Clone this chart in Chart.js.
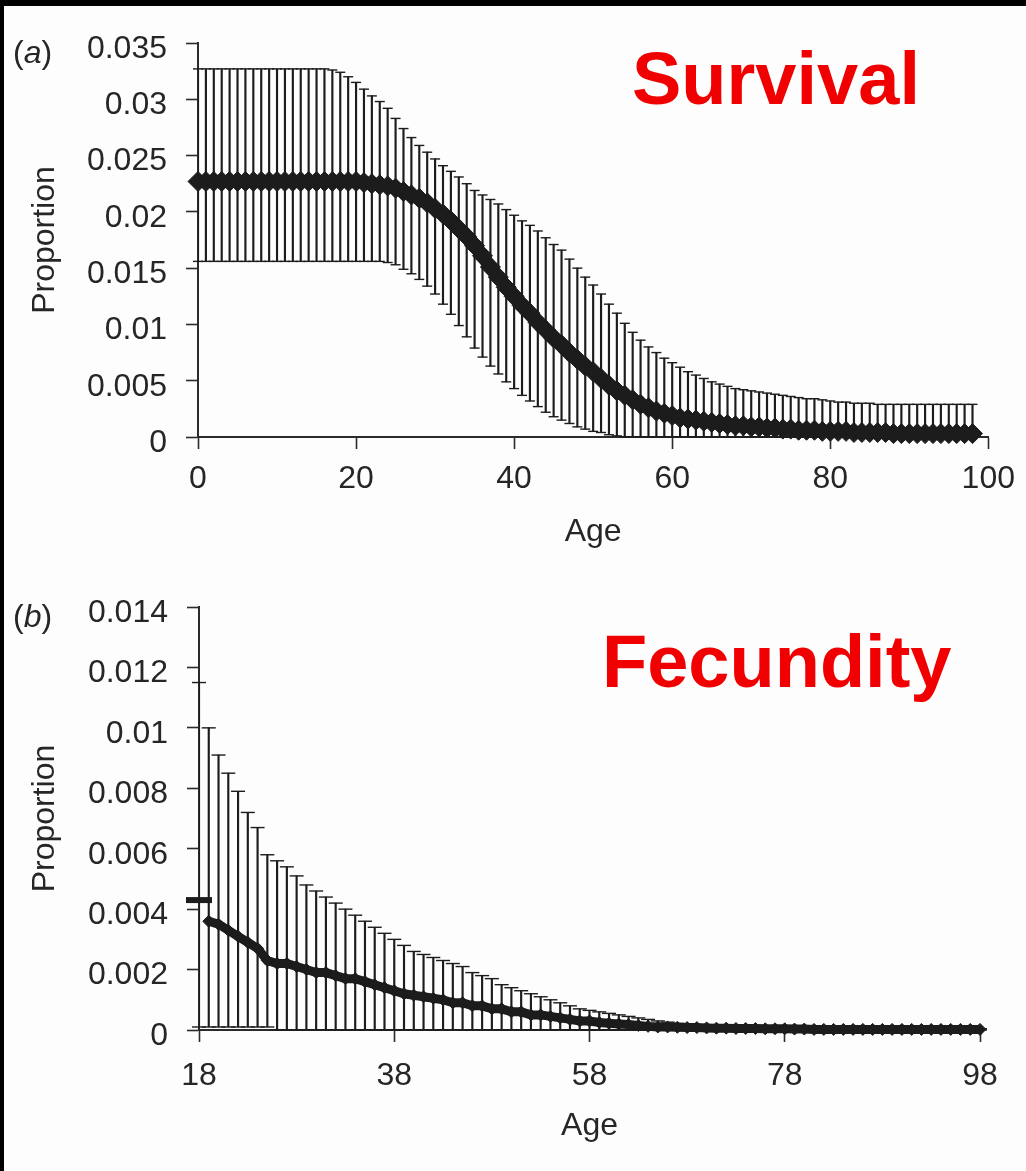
<!DOCTYPE html>
<html>
<head>
<meta charset="utf-8">
<script src="https://cdn.jsdelivr.net/npm/chart.js@4.4.1/dist/chart.umd.min.js"></script>
<style>
    html, body { margin: 0; padding: 0; background: #000; }
    body { width: 1026px; height: 1171px; position: relative; overflow: hidden;
           font-family: "Liberation Sans", Arial, sans-serif; }
    #sheet { position: absolute; left: 4px; top: 6px; right: 0; bottom: 0; background: #fdfdfd; }
    canvas { position: absolute; left: 0; }
    #chartA { top: 0; }
    #chartB { top: 560px; }
    .tag { position: absolute; left: 13px; font-size: 32px; line-height: 32px; color: #262626; }
    .tag i { font-style: italic; }
    .big { position: absolute; font-weight: bold; font-size: 74px; line-height: 74px; color: #f00000; }
</style>
</head>
<body>
<div id="sheet"></div>
<canvas id="chartA" width="1026" height="560"></canvas>
<canvas id="chartB" width="1026" height="611"></canvas>
<div class="tag" style="top:36px">(<i>a</i>)</div>
<div class="tag" style="top:600px">(<i>b</i>)</div>
<div class="big" style="left:632px; top:42px">Survival</div>
<div class="big" style="left:602px; top:625px">Fecundity</div>

<script>
    "use strict";

    // (a) Survival, ages 0-98
    const ageA = [
        0, 1, 2, 3, 4, 5, 6, 7, 8, 9, 10, 11, 12, 13, 14, 15, 16, 17, 18, 19,
        20, 21, 22, 23, 24, 25, 26, 27, 28, 29, 30, 31, 32, 33, 34, 35, 36, 37, 38, 39,
        40, 41, 42, 43, 44, 45, 46, 47, 48, 49, 50, 51, 52, 53, 54, 55, 56, 57, 58, 59,
        60, 61, 62, 63, 64, 65, 66, 67, 68, 69, 70, 71, 72, 73, 74, 75, 76, 77, 78, 79,
        80, 81, 82, 83, 84, 85, 86, 87, 88, 89, 90, 91, 92, 93, 94, 95, 96, 97, 98
    ];
    const meanA = [
        0.0227, 0.0227, 0.0227, 0.0227, 0.0227, 0.0227, 0.0227, 0.0227, 0.0227, 0.0227,
        0.0227, 0.0227, 0.0227, 0.0227, 0.0227, 0.0227, 0.0227, 0.0227, 0.0227, 0.0227,
        0.0227, 0.0226, 0.0225, 0.0224, 0.0223, 0.0221, 0.0218, 0.0215, 0.0212, 0.0208,
        0.0203, 0.0198, 0.0192, 0.0185, 0.0178, 0.0170, 0.0161, 0.0151, 0.0142, 0.0133,
        0.0125, 0.0117, 0.0110, 0.0102, 0.0095, 0.0088, 0.0082, 0.0075, 0.0069, 0.0063,
        0.0058, 0.0052, 0.0046, 0.0041, 0.0037, 0.0033, 0.0029, 0.0026, 0.0023, 0.0021,
        0.0019, 0.0017, 0.0016, 0.0015, 0.0014, 0.0013, 0.0012, 0.0011, 0.0010, 0.0010,
        0.0009, 0.0009, 0.0008, 0.0008, 0.0007, 0.0007, 0.0006, 0.0006, 0.0006, 0.0005,
        0.0005, 0.0005, 0.0005, 0.0004, 0.0004, 0.0004, 0.0004, 0.0004, 0.0003, 0.0003,
        0.0003, 0.0003, 0.0003, 0.0003, 0.0003, 0.0003, 0.0003, 0.0003, 0.0003
    ];
    const upperA = [
        0.0327, 0.0327, 0.0327, 0.0327, 0.0327, 0.0327, 0.0327, 0.0327, 0.0327, 0.0327,
        0.0327, 0.0327, 0.0327, 0.0327, 0.0327, 0.0327, 0.0327, 0.0326, 0.0324, 0.0320,
        0.0315, 0.0309, 0.0303, 0.0298, 0.0292, 0.0283, 0.0274, 0.0266, 0.0259, 0.0253,
        0.0247, 0.0241, 0.0236, 0.0231, 0.0225, 0.0219, 0.0215, 0.0211, 0.0207, 0.0202,
        0.0197, 0.0192, 0.0188, 0.0183, 0.0177, 0.0171, 0.0166, 0.0158, 0.0150, 0.0142,
        0.0135, 0.0127, 0.0118, 0.0110, 0.0101, 0.0093, 0.0086, 0.0080, 0.0075, 0.0070,
        0.0066, 0.0062, 0.0058, 0.0055, 0.0052, 0.0049, 0.0047, 0.0045, 0.0043, 0.0042,
        0.0041, 0.0040, 0.0039, 0.0038, 0.0037, 0.0036, 0.0035, 0.0034, 0.0034, 0.0033,
        0.0032, 0.0031, 0.0031, 0.0030, 0.0030, 0.0030, 0.0029, 0.0029, 0.0029, 0.0029,
        0.0029, 0.0029, 0.0029, 0.0029, 0.0029, 0.0029, 0.0029, 0.0029, 0.0029
    ];
    const lowerA = [
        0.0156, 0.0156, 0.0156, 0.0156, 0.0156, 0.0156, 0.0156, 0.0156, 0.0156, 0.0156,
        0.0156, 0.0156, 0.0156, 0.0156, 0.0156, 0.0156, 0.0156, 0.0156, 0.0156, 0.0156,
        0.0156, 0.0156, 0.0156, 0.0156, 0.0155, 0.0153, 0.0149, 0.0145, 0.0140, 0.0134,
        0.0127, 0.0118, 0.0109, 0.0099, 0.0089, 0.0079, 0.0071, 0.0063, 0.0056, 0.0049,
        0.0043, 0.0037, 0.0032, 0.0027, 0.0022, 0.0018, 0.0015, 0.0012, 0.0009, 0.0007,
        0.0005, 0.0004, 0.0002, 0.0001, 0, 0, 0, 0, 0, 0,
        0, 0, 0, 0, 0, 0, 0, 0, 0, 0,
        0, 0, 0, 0, 0, 0, 0, 0, 0, 0,
        0, 0, 0, 0, 0, 0, 0, 0, 0, 0,
        0, 0, 0, 0, 0, 0, 0, 0, 0
    ];
    const xTicksA  = [0, 20, 40, 60, 80, 100];
    const xLabelsA = ["0", "20", "40", "60", "80", "100"];
    const yTicksA  = [0, 0.005, 0.01, 0.015, 0.02, 0.025, 0.03, 0.035];
    const yLabelsA = ["0", "0.005", "0.01", "0.015", "0.02", "0.025", "0.03", "0.035"];

    // (b) Fecundity, ages 18-98
    const ageB = [
        18, 19, 20, 21, 22, 23, 24, 25, 26, 27, 28, 29, 30, 31, 32, 33, 34, 35, 36, 37,
        38, 39, 40, 41, 42, 43, 44, 45, 46, 47, 48, 49, 50, 51, 52, 53, 54, 55, 56, 57,
        58, 59, 60, 61, 62, 63, 64, 65, 66, 67, 68, 69, 70, 71, 72, 73, 74, 75, 76, 77,
        78, 79, 80, 81, 82, 83, 84, 85, 86, 87, 88, 89, 90, 91, 92, 93, 94, 95, 96, 97, 98
    ];
    const meanB = [
        0.0043, 0.0036, 0.0035, 0.0033, 0.0031, 0.0029, 0.0027, 0.0023, 0.0022, 0.0022,
        0.0021, 0.0020, 0.0019, 0.0019, 0.0018, 0.0017, 0.0017, 0.0016, 0.0015, 0.0014,
        0.0013, 0.0012, 0.00115, 0.0011, 0.00105, 0.0010, 0.0009, 0.0009, 0.0008, 0.0008,
        0.0007, 0.0007, 0.0006, 0.0006, 0.0005, 0.0005, 0.00045, 0.0004, 0.00035, 0.0003,
        0.0003, 0.00025, 0.00022, 0.0002, 0.00018, 0.00015, 0.00012, 0.0001, 0.0001, 0.00009,
        0.00008, 0.00008, 0.00007, 0.00006, 0.00006, 0.00005, 0.00005, 0.00005, 0.00004, 0.00004,
        0.00004, 0.00003, 0.00003, 0.00002, 0.00002, 0.00002, 0.00002, 0.00002, 0.00002, 0.00002,
        0.00002, 0.00002, 0.00002, 0.00002, 0.00002, 0.00002, 0.00002, 0.00002, 0.00002, 0.00002,
        0.00002
    ];
    const upperB = [
        0.0115, 0.0100, 0.0091, 0.0085, 0.0079, 0.0072, 0.0067, 0.0058, 0.0056, 0.0054,
        0.0051, 0.0048, 0.0046, 0.0044, 0.0042, 0.0040, 0.0038, 0.0036, 0.0034, 0.0032,
        0.0030, 0.0028, 0.0026, 0.0025, 0.0024, 0.0023, 0.0022, 0.0021, 0.0019, 0.0018,
        0.0017, 0.0015, 0.0014, 0.0013, 0.0012, 0.0011, 0.0010, 0.0009, 0.0008, 0.0007,
        0.00065, 0.0006, 0.00055, 0.0005, 0.00045, 0.0004, 0.00035, 0.0003, 0.00026, 0.00022,
        0.0002, 0.00017, 0.00015, 0.00013, 0.00012, 0.0001, 0.0001, 0.00009, 0.00008, 0.00008,
        0.00007, 0.00007, 0.00007, 0.00006, 0.00006, 0.00006, 0.00006, 0.00005, 0.00005, 0.00005,
        0.00005, 0.00005, 0.00005, 0.00004, 0.00004, 0.00004, 0.00004, 0.00004, 0.00004, 0.00004,
        0.00004
    ];
    const lowerB = [
        0.0001, 0.0001, 0.0001, 0.0001, 0.0001, 0.0001, 0.0001, 0.0001, 0, 0,
        0, 0, 0, 0, 0, 0, 0, 0, 0, 0,
        0, 0, 0, 0, 0, 0, 0, 0, 0, 0,
        0, 0, 0, 0, 0, 0, 0, 0, 0, 0,
        0, 0, 0, 0, 0, 0, 0, 0, 0, 0,
        0, 0, 0, 0, 0, 0, 0, 0, 0, 0,
        0, 0, 0, 0, 0, 0, 0, 0, 0, 0,
        0, 0, 0, 0, 0, 0, 0, 0, 0, 0,
        0
    ];
    const xTicksB  = [18, 38, 58, 78, 98];
    const xLabelsB = ["18", "38", "58", "78", "98"];
    const yTicksB  = [0, 0.002, 0.004, 0.006, 0.008, 0.01, 0.012, 0.014];
    const yLabelsB = ["0", "0.002", "0.004", "0.006", "0.008", "0.01", "0.012", "0.014"];


    const INK  = "#1c1c1c";
    const AXIS = "#2b2b2b";
    const TEXT = "#262626";

    Chart.defaults.font.family = "'Liberation Sans', Arial, sans-serif";
    Chart.defaults.font.size = 32;
    Chart.defaults.color = TEXT;

    function pts(xs, ys) {
        return xs.map((x, i) => ({ x: x, y: ys[i] }));
    }

    function spans(xs, lo, hi) {
        return xs.map((x, i) => ({ x: x, y: [lo[i], hi[i]] }));
    }

    function axisGrid() {
        return { drawOnChartArea: false, drawTicks: true, tickLength: 12,
                 tickColor: AXIS, tickWidth: 1.6, offset: false };
    }

    function makePanel(id, p) {
        const ctx = document.getElementById(id).getContext("2d");
        // in (b) the first age is a lone dash, not joined to the run of markers
        const firstApart = p.firstDash;
        return new Chart(ctx, {
            type: "scatter",
            data: {
                datasets: [
                    { // mean: thick band of diamonds
                        type: "scatter", data: pts(p.ages, p.mean),
                        showLine: true, borderWidth: p.bandW, borderColor: INK,
                        backgroundColor: INK, tension: 0,
                        segment: {
                            borderColor: c => (firstApart && c.p0DataIndex === 0) ? "rgba(0,0,0,0)" : INK
                        },
                        pointStyle: c => (firstApart && c.dataIndex === 0) ? "line" : "rectRot",
                        pointRadius: c => (firstApart && c.dataIndex === 0) ? 13 : p.markR,
                        pointBorderWidth: c => (firstApart && c.dataIndex === 0) ? 6 : 1,
                        pointBorderColor: INK, pointBackgroundColor: INK,
                        order: 0, clip: false
                    },
                    { // upper caps
                        type: "scatter", data: pts(p.ages, p.upper),
                        pointStyle: "line", pointRadius: p.capR,
                        borderColor: INK, borderWidth: 1.4,
                        order: 1, clip: false
                    },
                    { // lower caps
                        type: "scatter", data: pts(p.ages, p.lower),
                        pointStyle: "line", pointRadius: p.capR,
                        borderColor: INK, borderWidth: 1.4,
                        order: 1, clip: false
                    },
                    { // bar stems
                        type: "bar", data: spans(p.ages, p.lower, p.upper),
                        barThickness: 1.5, backgroundColor: INK, borderWidth: 0,
                        order: 2
                    }
                ]
            },
            options: {
                responsive: false,
                animation: false,
                events: [],
                layout: { padding: { top: p.top, right: p.right, bottom: 0, left: 0 } },
                plugins: { legend: { display: false }, tooltip: { enabled: false } },
                scales: {
                    x: {
                        type: "linear", min: p.xTicks[0], max: p.xMax, offset: false,
                        afterFit: s => { s.height = p.xAxisH; },
                        afterBuildTicks: s => { s.ticks = p.xTicks.map(v => ({ value: v })); },
                        ticks: {
                            padding: p.xPad, maxRotation: 0, autoSkip: false,
                            callback: (v, i) => p.xLabels[i]
                        },
                        grid: axisGrid(),
                        border: { display: true, color: AXIS, width: 2 },
                        title: { display: true, text: "Age", padding: { top: 0, bottom: p.titlePad } }
                    },
                    y: {
                        type: "linear", min: 0, max: p.yTicks[p.yTicks.length - 1],
                        afterFit: s => { s.width = p.left; },
                        afterBuildTicks: s => { s.ticks = p.yTicks.map(v => ({ value: v })); },
                        ticks: {
                            padding: 19, labelOffset: 6, autoSkip: false,
                            callback: (v, i) => p.yLabels[i]
                        },
                        grid: axisGrid(),
                        border: { display: true, color: AXIS, width: 2 },
                        title: { display: true, text: "Proportion", padding: { top: 26, bottom: 0 } }
                    }
                }
            }
        });
    }

    function init() {
        makePanel("chartA", {
            ages: ageA, mean: meanA, upper: upperA, lower: lowerA,
            xTicks: xTicksA, xLabels: xLabelsA, yTicks: yTicksA, yLabels: yLabelsA,
            xMax: 100, markR: 10, bandW: 13, capR: 5, firstDash: false,
            top: 43, right: 31, left: 198, xAxisH: 123, xPad: 11, titlePad: 9
        });
        makePanel("chartB", {
            ages: ageB, mean: meanB, upper: upperB, lower: lowerB,
            xTicks: xTicksB, xLabels: xLabelsB, yTicks: yTicksB, yLabels: yLabelsB,
            xMax: 98, markR: 6, bandW: 9, capR: 7, firstDash: true,
            top: 47, right: 46, left: 199, xAxisH: 141, xPad: 15, titlePad: 26
        });
    }

    if (document.readyState === "loading") {
        document.addEventListener("DOMContentLoaded", init);
    } else {
        init();
    }
</script>
</body>
</html>
